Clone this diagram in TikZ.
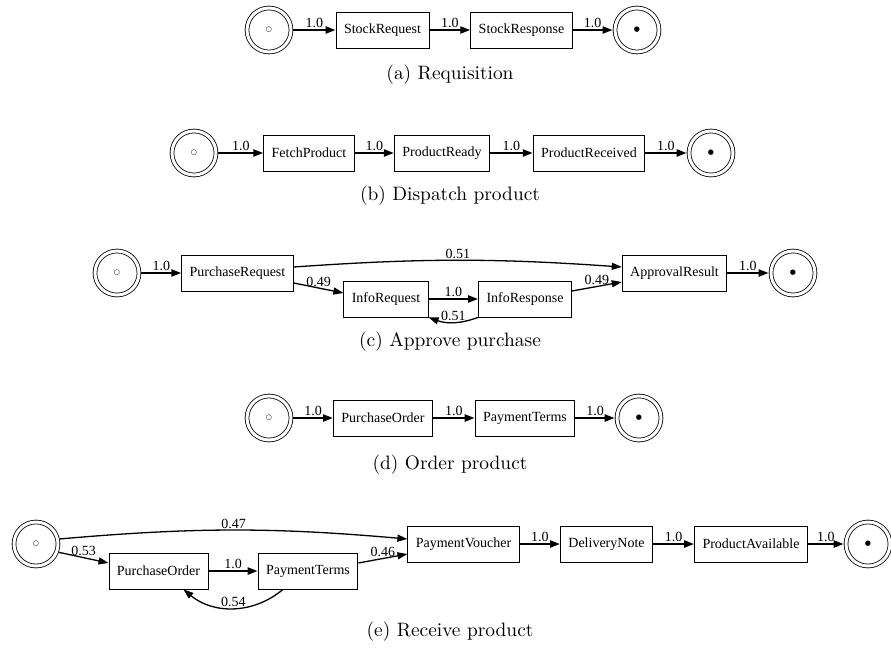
\documentclass[tikz,border=0pt]{standalone}
\usepackage{fontspec}
\usepackage{tikz}
\usetikzlibrary{arrows.meta,positioning}
\newfontfamily\dotfont{Liberation Serif}
\newfontfamily\symfont{DejaVu Sans}
\newfontfamily\capfont[Extension=.otf]{lmroman10-regular}

\begin{document}
\begin{tikzpicture}[
        x=1pt, y=1pt,
        every node/.style={font=\dotfont\fontsize{14}{16}\selectfont},
        activity/.style={draw, rectangle, line width=0.8pt, minimum height=36pt, inner xsep=8pt},
        place/.style={draw, circle, line width=0.8pt, double, double distance=3pt,
            minimum size=44pt, inner sep=0pt, outer sep=2.3pt},
        flow/.style={draw, line width=1.3pt, -{Triangle[length=10pt,width=7pt]}},
        strong flow/.style={flow, line width=2.2pt},
        prob/.style={above, inner sep=1pt},
        caption/.style={font=\capfont\fontsize{19.4}{23}\selectfont}
    ]
    \useasboundingbox (0,0) rectangle (891,-651);

    % (a) Requisition
    \node[place] (sA) at (269,-30) {\symfont\fontsize{7}{7}\selectfont ○};
    \node[activity] (stockReq) at (382.5,-30) {StockRequest};
    \node[activity] (stockResp) at (521.5,-30) {StockResponse};
    \node[place] (eA) at (637,-30) {\symfont\fontsize{7}{7}\selectfont ●};
    \draw[strong flow] (sA) -- node[prob] {1.0} (stockReq);
    \draw[strong flow] (stockReq) -- node[prob] {1.0} (stockResp);
    \draw[strong flow] (stockResp) -- node[prob] {1.0} (eA);
    \node[caption] (capA) at (450,-75) {(a) Requisition};

    % (b) Dispatch product
    \node[place] (sB) at (194,-153) {\symfont\fontsize{7}{7}\selectfont ○};
    \node[activity] (fetch) at (309,-153) {FetchProduct};
    \node[activity] (ready) at (442,-153) {ProductReady};
    \node[activity] (received) at (589,-153) {ProductReceived};
    \node[place] (eB) at (711,-153) {\symfont\fontsize{7}{7}\selectfont ●};
    \draw[strong flow] (sB) -- node[prob] {1.0} (fetch);
    \draw[strong flow] (fetch) -- node[prob] {1.0} (ready);
    \draw[strong flow] (ready) -- node[prob] {1.0} (received);
    \draw[strong flow] (received) -- node[prob] {1.0} (eB);
    \node[caption] (capB) at (450,-196) {(b) Dispatch product};

    % (c) Approve purchase
    \node[place] (sC) at (117,-273) {\symfont\fontsize{7}{7}\selectfont ○};
    \node[activity] (purchReq) at (237.5,-273) {PurchaseRequest};
    \node[activity] (infoReq) at (386,-299) {InfoRequest};
    \node[activity] (infoResp) at (525,-299) {InfoResponse};
    \node[activity] (approval) at (674.5,-273) {ApprovalResult};
    \node[place] (eC) at (793,-273) {\symfont\fontsize{7}{7}\selectfont ●};
    \draw[strong flow] (sC) -- node[prob] {1.0} (purchReq);
    \draw[flow] ([yshift=6pt]purchReq.east) to[bend left=4] node[prob] {0.51} ([yshift=6pt]approval.west);
    \draw[flow] ([yshift=-10pt]purchReq.east) -- node[prob] {0.49} ([yshift=6pt]infoReq.west);
    \draw[strong flow] (infoReq) -- node[prob] {1.0} (infoResp);
    \draw[flow] (infoResp.south west) to[bend left=20] node[prob] {0.51} (infoReq.south east);
    \draw[flow] ([yshift=8pt]infoResp.east) -- node[prob] {0.49} ([yshift=-9pt]approval.west);
    \draw[strong flow] (approval) -- node[prob] {1.0} (eC);
    \node[caption] (capC) at (450,-342) {(c) Approve purchase};

    % (d) Order product
    \node[place] (sD) at (269,-418) {\symfont\fontsize{7}{7}\selectfont ○};
    \node[activity] (orderD) at (383,-418) {PurchaseOrder};
    \node[activity] (termsD) at (525,-418) {PaymentTerms};
    \node[place] (eD) at (639,-418) {\symfont\fontsize{7}{7}\selectfont ●};
    \draw[strong flow] (sD) -- node[prob] {1.0} (orderD);
    \draw[strong flow] (orderD) -- node[prob] {1.0} (termsD);
    \draw[strong flow] (termsD) -- node[prob] {1.0} (eD);
    \node[caption] (capD) at (450,-465) {(d) Order product};

    % (e) Receive product
    \node[place] (sE) at (36,-544) {\symfont\fontsize{7}{7}\selectfont ○};
    \node[activity] (orderE) at (158.5,-571) {PurchaseOrder};
    \node[activity] (termsE) at (308,-571) {PaymentTerms};
    \node[activity] (voucher) at (463.5,-544) {PaymentVoucher};
    \node[activity] (delivery) at (606.5,-544) {DeliveryNote};
    \node[activity] (available) at (751,-544) {ProductAvailable};
    \node[place] (eE) at (868,-544) {\symfont\fontsize{7}{7}\selectfont ●};
    \draw[flow] (sE.12) to[bend left=5] node[prob] {0.47} ([yshift=5pt]voucher.west);
    \draw[flow] (sE.-20) -- node[prob] {0.53} ([yshift=8pt]orderE.west);
    \draw[strong flow] (orderE) -- node[prob] {1.0} (termsE);
    \draw[flow] ([xshift=-25pt]termsE.south) to[bend left=40] node[prob] {0.54} ([xshift=25pt]orderE.south);
    \draw[flow] ([yshift=8pt]termsE.east) -- node[prob] {0.46} ([yshift=-10pt]voucher.west);
    \draw[strong flow] (voucher) -- node[prob] {1.0} (delivery);
    \draw[strong flow] (delivery) -- node[prob] {1.0} (available);
    \draw[strong flow] (available) -- node[prob] {1.0} (eE);
    \node[caption] (capE) at (450,-632) {(e) Receive product};
\end{tikzpicture}
\end{document}
